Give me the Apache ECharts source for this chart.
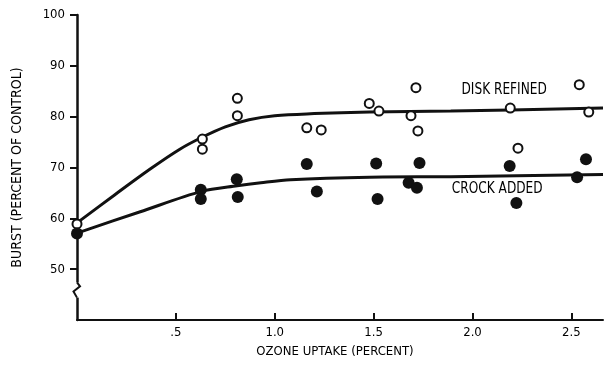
<!DOCTYPE html>
<html>
<head>
<meta charset="utf-8">
<script src="https://cdn.jsdelivr.net/npm/echarts@6/dist/echarts.min.js"></script>
<style>
html,body{margin:0;padding:0;background:#fff;}
#chart{width:605px;height:368px;}
</style>
</head>
<body>
<div id="chart"></div>
<script>
// Data
const xTicks = [0.5, 1.0, 1.5, 2.0, 2.5];
const yTicks = [50, 60, 70, 80, 90, 100];

const diskX = [0, 0.634, 0.634, 0.811, 0.811, 1.162, 1.235, 1.478, 1.527, 1.714, 1.689, 1.724, 2.191, 2.230, 2.540, 2.588];
const diskY = [58.9, 75.6, 73.6, 83.6, 80.2, 77.8, 77.4, 82.6, 81.1, 85.7, 80.2, 77.2, 81.7, 73.8, 86.3, 80.9];

const crockX = [0, 0.626, 0.626, 0.808, 0.813, 1.162, 1.213, 1.513, 1.520, 1.732, 1.677, 1.719, 2.188, 2.222, 2.574, 2.529];
const crockY = [57.0, 65.6, 63.8, 67.7, 64.2, 70.7, 65.3, 70.8, 63.8, 70.9, 67.0, 66.0, 70.3, 63.0, 71.6, 68.1];

const diskCurveX = [0, 0.19, 0.37, 0.52, 0.63, 0.75, 0.87, 1.0, 1.2, 1.48, 1.89, 2.66];
const diskCurveY = [59.1, 64.6, 69.7, 73.6, 75.9, 78.0, 79.4, 80.2, 80.6, 80.9, 81.1, 81.7];
const crockCurveX = [0, 0.32, 0.63, 0.81, 0.93, 1.08, 1.48, 1.89, 2.66];
const crockCurveY = [57.1, 61.3, 65.3, 66.4, 67.0, 67.6, 68.1, 68.2, 68.6];

const labelDisk = 'DISK REFINED';
const labelCrock = 'CROCK ADDED';

const zip = (a, b) => a.map((v, i) => [v, b[i]]);
const FONT = '"Liberation Sans Narrow", "Arial Narrow", "DejaVu Sans Condensed", "Liberation Sans", sans-serif';

const chart = echarts.init(document.getElementById('chart'), null, {renderer: 'canvas'});
const option = {
  animation: false,
  backgroundColor: '#fff',
  grid: {left: 77, right: 2, top: 15, bottom: 48, containLabel: false, outerBoundsMode: 'none'},
  xAxis: {
    type: 'value', min: 0, max: 2.66,
    name: 'OZONE UPTAKE (PERCENT)', nameLocation: 'middle', nameGap: 25,
    nameTextStyle: {fontFamily: FONT, fontSize: 13, color: '#000', padding: [0, 10, 0, 0]},
    axisLine: {lineStyle: {color: '#111', width: 2}},
    axisTick: {show: true, inside: true, length: 7, lineStyle: {color: '#111', width: 2}, customValues: xTicks},
    axisLabel: {customValues: xTicks, margin: 6, fontFamily: FONT, fontSize: 13, color: '#000',
      formatter: v => (v === 0.5 ? '.5' : v.toFixed(1))},
    splitLine: {show: false}
  },
  yAxis: {
    type: 'value', min: 40, max: 100, interval: 10,
    name: 'BURST (PERCENT OF CONTROL)', nameLocation: 'middle', nameGap: 53, nameRotate: 90,
    nameTextStyle: {fontFamily: FONT, fontSize: 14, color: '#000'},
    axisLine: {show: true, lineStyle: {color: '#111', width: 2.5}},
    axisTick: {show: true, inside: false, length: 7, lineStyle: {color: '#111', width: 2}, customValues: yTicks},
    axisLabel: {customValues: yTicks, margin: 12, fontFamily: FONT, fontSize: 13, color: '#000'},
    splitLine: {show: false}
  },
  series: [
    {type: 'line', data: zip(diskCurveX, diskCurveY), smooth: 0.35, showSymbol: false,
     lineStyle: {color: '#111', width: 3}, z: 2},
    {type: 'line', data: zip(crockCurveX, crockCurveY), smooth: 0.3, showSymbol: false,
     lineStyle: {color: '#111', width: 3}, z: 2},
    {type: 'scatter', data: zip(diskX, diskY), symbol: 'circle', symbolSize: 9,
     itemStyle: {color: '#fff', borderColor: '#111', borderWidth: 2, opacity: 1}, z: 3},
    {type: 'scatter', data: zip(crockX, crockY), symbol: 'circle', symbolSize: 12,
     itemStyle: {color: '#111', opacity: 1}, z: 3}
  ]
};
chart.setOption(option);

// Annotations and axis break mark
const p1 = chart.convertToPixel({gridIndex: 0}, [2.16, 85.2]);
const p2 = chart.convertToPixel({gridIndex: 0}, [2.125, 65.8]);
const b0 = chart.convertToPixel({gridIndex: 0}, [0, 47.2]);
const b1 = chart.convertToPixel({gridIndex: 0}, [0, 44.6]);
const ax = b0[0];
chart.setOption({
  graphic: [
    {type: 'text', x: p1[0], y: p1[1], scaleX: 0.9,
     style: {text: labelDisk, font: '15px ' + FONT, fill: '#000', align: 'center', verticalAlign: 'middle'}},
    {type: 'text', x: p2[0], y: p2[1], scaleX: 0.9,
     style: {text: labelCrock, font: '15px ' + FONT, fill: '#000', align: 'center', verticalAlign: 'middle'}},
    {type: 'rect', shape: {x: ax - 4, y: b0[1] - 1, width: 8, height: (b1[1] - b0[1]) + 2},
     style: {fill: '#fff'}, z: 100},
    {type: 'polyline', shape: {points: [[ax, b0[1] - 1], [ax + 3, b0[1] + 3], [ax - 3.5, b0[1] + 8], [ax, b1[1] + 1]]},
     style: {stroke: '#111', lineWidth: 2, fill: null}, z: 101}
  ]
});
</script>
</body>
</html>
